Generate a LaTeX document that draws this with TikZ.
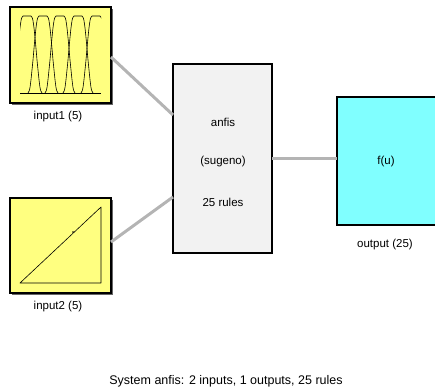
\documentclass[tikz,border=0pt]{standalone}
\usepackage{fontspec}
\setmainfont{Liberation Sans}
\definecolor{inyellow}{RGB}{255,255,128}
\definecolor{outcyan}{RGB}{128,255,255}
\definecolor{fisgray}{RGB}{242,242,242}
\definecolor{conngray}{RGB}{180,180,180}
\begin{document}
\begin{tikzpicture}[x=1pt,y=-1pt,
  blockbox/.style={draw=black,line width=2pt},
  shadowbox/.style={fill=black!60},
  conn/.style={draw=conngray,line width=3pt},
  lbl/.style={font=\fontsize{11.5}{13}\selectfont,inner sep=0pt},
  mfline/.style={draw=black,line width=0.6pt,line join=round}]
\useasboundingbox (0,0) rectangle (435,391);
% input1 block
\fill[shadowbox] (11.5,8.5) rectangle (112.5,104.5);
\path[blockbox,fill=inyellow] (10,7) rectangle (111,103);
\coordinate (in1) at (111,57);
\draw[mfline] (20,93) -- (101,93);
\begin{scope}
\clip (20,10) rectangle (101,100);
\foreach \c in {27,43,60,78,96}{
  \draw[mfline] ({\c-15},93) .. controls ({\c-13},90) .. ({\c-10},60)
     .. controls ({\c-7},25) and ({\c-6},16) .. ({\c-4},16) -- ({\c+4},16)
     .. controls ({\c+6},16) and ({\c+7},25) .. ({\c+10},60)
     .. controls ({\c+13},90) .. ({\c+15},93);
}
\end{scope}
\node[lbl] (lin1) at (58,117) {input1 (5)};
% input2 block
\fill[shadowbox] (11.5,199.5) rectangle (112.5,294.5);
\path[blockbox,fill=inyellow] (10,198) rectangle (111,293);
\coordinate (in2) at (111,242);
\draw[mfline] (20,283) -- (101,207) -- (101,283) -- cycle;
\fill (73,232) circle (0.9);
\node[lbl] (lin2) at (58,307) {input2 (5)};
% fis block
\path[blockbox,fill=fisgray] (173,64) rectangle (272,253);
\coordinate (fisA) at (173,115);
\coordinate (fisB) at (173,197);
\coordinate (fisC) at (272,158);
\node[lbl] (t1) at (223,122) {anfis};
\node[lbl] (t2) at (223,162) {(sugeno)};
\node[lbl] (t3) at (223,202) {25 rules};
% output block
\path[blockbox,fill=outcyan] (337,97) rectangle (440,225);
\coordinate (outA) at (337,158);
\node[lbl] (fu) at (386,162) {f(u)};
\node[lbl] (lout) at (385,245) {output (25)};
% connectors
\draw[conn] (in1) -- (fisA);
\draw[conn] (in2) -- (fisB);
\draw[conn] (fisC) -- (outA);
% title
\node[font=\fontsize{12.5}{14}\selectfont,inner sep=0pt] (title) at (226,381) {System anfis: 2 inputs, 1 outputs, 25 rules};
\end{tikzpicture}
\end{document}
